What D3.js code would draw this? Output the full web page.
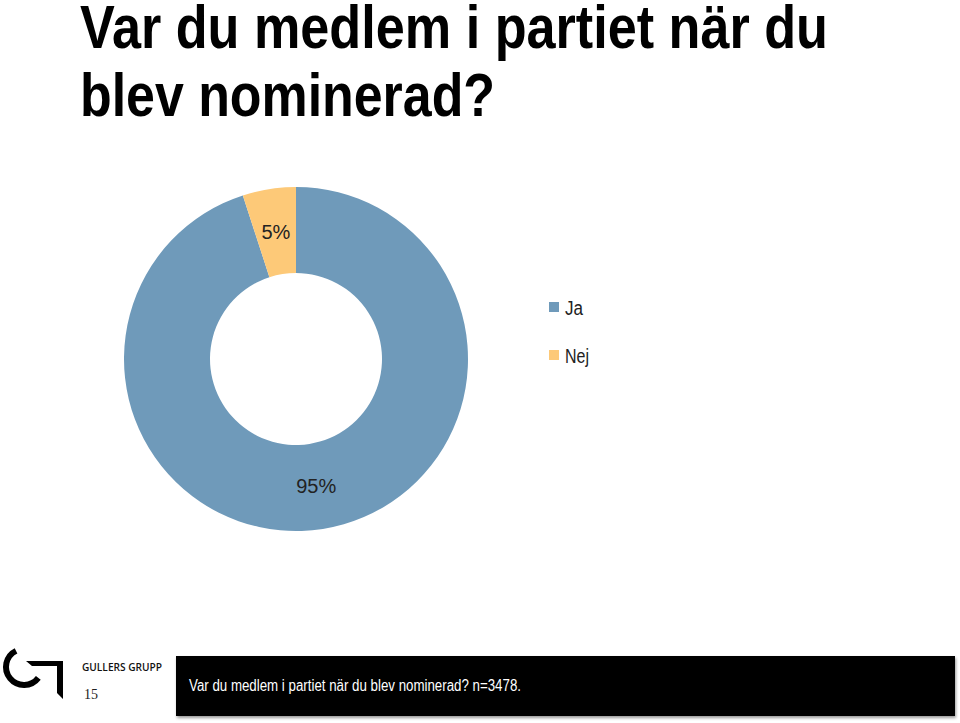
<!DOCTYPE html>
<html><head><meta charset="utf-8">
<script src="https://cdn.jsdelivr.net/npm/d3@7"></script>
<style>body{margin:0;background:#fff}svg{display:block}</style>
</head><body>
<svg id="c" width="960" height="723"></svg>
<script>
const titleLines = ["Var du medlem i partiet när du", "blev nominerad?"];
const categories = ["Ja", "Nej"];
const values = [95, 5];
const labels = ["95%", "5%"];
const colors = ["#6f9aba", "#fdc978"];
const footnote = "Var du medlem i partiet när du blev nominerad? n=3478.";
const pageNumber = "15";
const brand = "GULLERS GRUPP";

const svg = d3.select("#c");
const narrow = "'Liberation Sans Narrow','Arial Narrow','Liberation Sans',Arial,sans-serif";

function fit(sel, w){
  sel.attr("textLength", w).attr("lengthAdjust", "spacingAndGlyphs");
}

// title
const tW = [748, 415];
titleLines.forEach((t,i)=>{
  const s = svg.append("text").attr("x",80).attr("y",48+i*68)
    .attr("font-family",narrow).attr("font-weight","bold").attr("font-size",61)
    .attr("fill","#000").text(t);
  fit(s, tW[i]);
});

// donut
const cx=296, cy=359, rO=172, rI=86;
const pie = d3.pie().sort(null).value(d=>d).startAngle(0).endAngle(2*Math.PI);
const arcs = pie(values);
const arc = d3.arc().innerRadius(rI).outerRadius(rO);
const g = svg.append("g").attr("transform",`translate(${cx},${cy})`);
g.selectAll("path").data(arcs).join("path").attr("d",arc).attr("fill",(d,i)=>colors[i]);

arcs.forEach((a,i)=>{
  const c = arc.centroid(a);
  g.append("text").attr("x",c[0]).attr("y",c[1]+7)
    .attr("text-anchor","middle").attr("font-family","'Liberation Sans',Arial,sans-serif")
    .attr("font-size",20).attr("fill","#222").text(labels[i]);
});

// legend
const leg = svg.append("g");
const legW = [18, 24];
categories.forEach((c,i)=>{
  const y = 302 + i*48;
  leg.append("rect").attr("x",549).attr("y",y).attr("width",10).attr("height",10).attr("fill",colors[i]);
  const t = leg.append("text").attr("x",565).attr("y",y+13).attr("font-family",narrow)
    .attr("font-size",20).attr("fill","#222").text(c);
  fit(t, legW[i]);
});

// footer logo
const logo = svg.append("g");
const cArc = d3.path();
cArc.arc(24, 667, 18, -2.03, 0.65, true);
logo.append("path").attr("d", cArc.toString()).attr("fill","none").attr("stroke","#000").attr("stroke-width",6);
logo.append("path").attr("d","M26,661 L63,661 L63,699 L57,693 L57,666 L32,666 Z").attr("fill","#000");

const br = svg.append("text").attr("x",82).attr("y",671).attr("font-family","'Open Sans',Lato,sans-serif")
  .attr("font-size",10.5).attr("font-weight",600).attr("fill","#111").text(brand);
fit(br, 80);
svg.append("text").attr("x",84).attr("y",699).attr("font-family","'Liberation Serif','Times New Roman',serif")
  .attr("font-size",14).attr("fill","#222").text(pageNumber);

// footnote box
const defs = svg.append("defs");
const f = defs.append("filter").attr("id","sh").attr("x","-5%").attr("y","-20%").attr("width","110%").attr("height","150%");
f.append("feDropShadow").attr("dx",1).attr("dy",2).attr("stdDeviation",1.5).attr("flood-color","#000").attr("flood-opacity",0.4);
svg.append("rect").attr("x",176).attr("y",656).attr("width",779).attr("height",60).attr("fill","#000").attr("filter","url(#sh)");
const fn = svg.append("text").attr("x",189).attr("y",691).attr("font-family",narrow)
  .attr("font-size",16).attr("fill","#fff").text(footnote);
fit(fn, 332);
</script>
</body></html>
